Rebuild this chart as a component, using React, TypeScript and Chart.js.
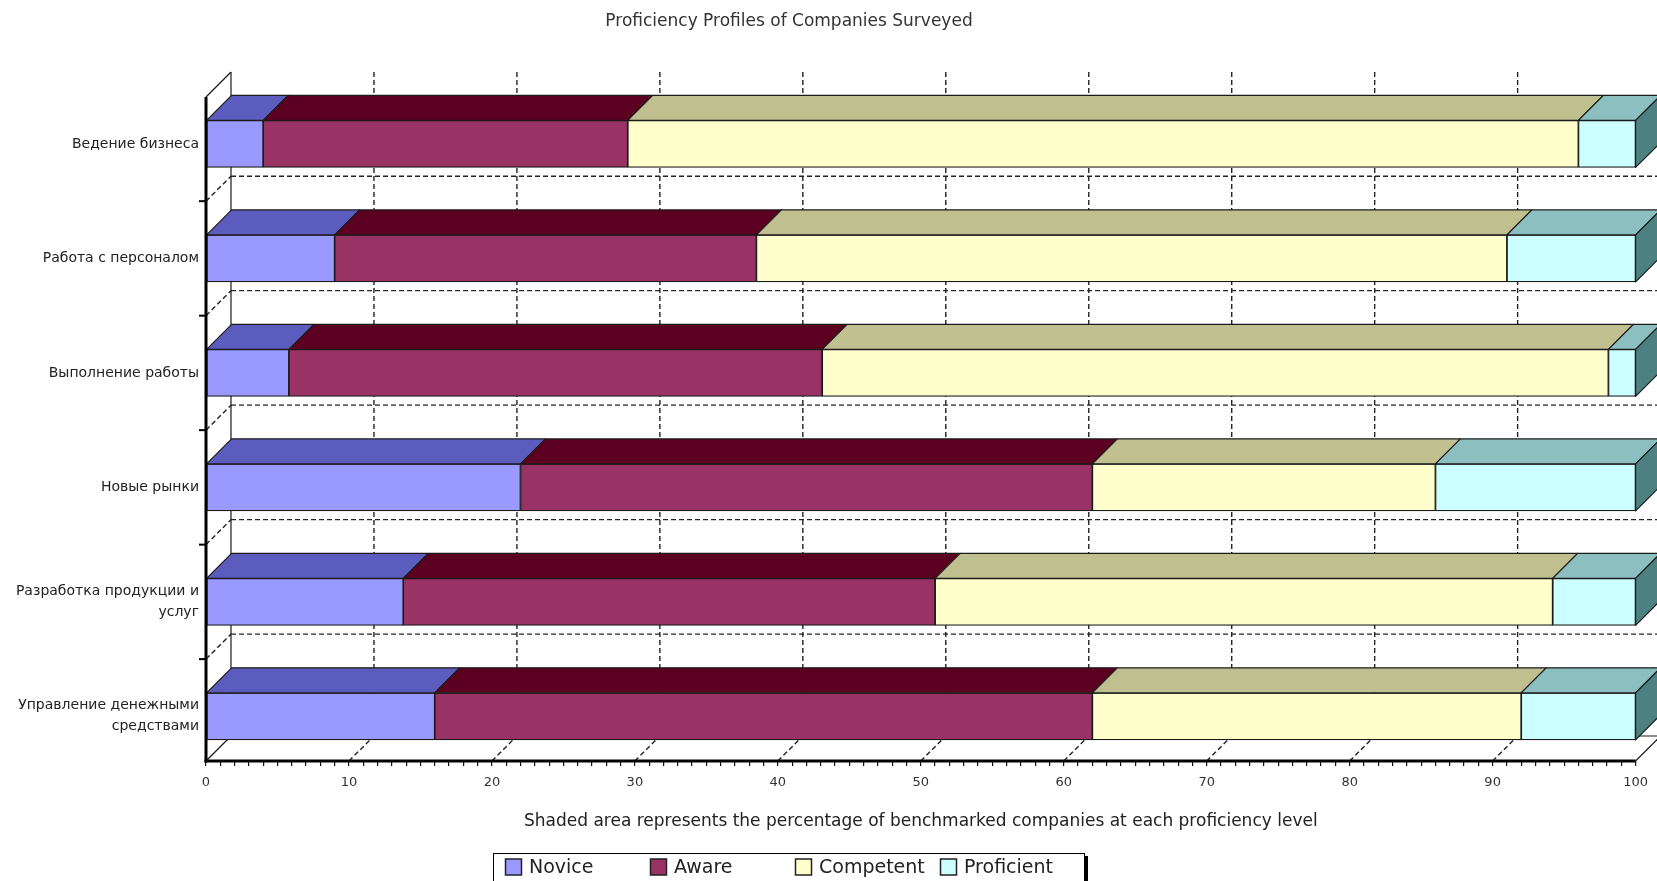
import { useEffect, useRef } from 'react';
import { Chart, registerables } from 'chart.js';

Chart.register(...registerables);

// Business areas (multi-line where the label wraps)
const CATEGORIES: string[][] = [
  ['Ведение бизнеса'],
  ['Работа с персоналом'],
  ['Выполнение работы'],
  ['Новые рынки'],
  ['Разработка продукции и', 'услуг'],
  ['Управление денежными', 'средствами'],
];

const SERIES = ['Novice', 'Aware', 'Competent', 'Proficient'];

// Share of companies (%) at each proficiency level, per business area
const NOVICE = [4, 9, 5.8, 22, 13.8, 16];
const AWARE = [25.5, 29.5, 37.3, 40, 37.2, 46];
const COMPETENT = [66.5, 52.5, 55, 24, 43.2, 30];
const PROFICIENT = [4, 9, 1.9, 14, 5.8, 8];

const X_GRID_VALUES = [10, 20, 30, 40, 50, 60, 70, 80, 90];

const FRONT_COLORS = ['#9999FF', '#993366', '#FFFFCC', '#CCFFFF'];
const TOP_COLORS = ['#5C5CBF', '#5C0021', '#C0BF8F', '#8CBFBF'];
const SIDE_COLOR = '#4D8080';
const EDGE = '#1a1a1a';

const TITLE = 'Proficiency Profiles of Companies Surveyed';
const X_TITLE =
  'Shaded area represents the percentage of benchmarked companies at each proficiency level';

const FONT = '"DejaVu Sans", "Noto Sans", sans-serif';
const DEPTH = 25;

const W = 1657;
const H = 881;

function line(ctx: CanvasRenderingContext2D, x1: number, y1: number, x2: number, y2: number) {
  ctx.beginPath();
  ctx.moveTo(x1, y1);
  ctx.lineTo(x2, y2);
  ctx.stroke();
}

function poly(ctx: CanvasRenderingContext2D, pts: number[][], fill: string) {
  ctx.beginPath();
  ctx.moveTo(pts[0][0], pts[0][1]);
  for (let i = 1; i < pts.length; i++) ctx.lineTo(pts[i][0], pts[i][1]);
  ctx.closePath();
  ctx.fillStyle = fill;
  ctx.fill();
  ctx.stroke();
}

// Back wall, left wall and floor of the 3D box, drawn behind the bars
const framePlugin = {
  id: 'frame3d',
  beforeDatasetsDraw(chart: any) {
    const { ctx, chartArea: a, scales } = chart;
    const xs = scales.x;
    const ys = scales.y;
    const d = DEPTH;
    const x0 = xs.getPixelForValue(0);
    const x100 = xs.getPixelForValue(100);
    ctx.save();
    ctx.strokeStyle = '#222';
    ctx.lineWidth = 1.4;
    ctx.setLineDash([5, 3]);
    X_GRID_VALUES.forEach((v) => {
      const px = xs.getPixelForValue(v);
      line(ctx, px + d, a.top - d, px + d, a.bottom - d);
      line(ctx, px, a.bottom, px + d, a.bottom - d);
    });
    for (let i = 0; i < CATEGORIES.length - 1; i++) {
      const py = ys.getPixelForValue(i + 0.5);
      line(ctx, x0 + d, py - d, x100 + d, py - d);
      line(ctx, a.left, py, a.left + d, py - d);
    }
    ctx.setLineDash([]);
    ctx.lineWidth = 1.2;
    ctx.strokeStyle = EDGE;
    line(ctx, a.left + d, a.top - d, a.left + d, a.bottom - d);
    line(ctx, a.left, a.top, a.left + d, a.top - d);
    line(ctx, a.left, a.bottom, a.left + d, a.bottom - d);
    line(ctx, x100, a.bottom, x100 + d, a.bottom - d);
    line(ctx, a.left + d, a.bottom - d, x100 + d, a.bottom - d);
    ctx.restore();
  },
  afterDatasetsDraw(chart: any) {
    const { ctx, chartArea: a, scales } = chart;
    const ys = scales.y;
    const d = DEPTH;
    const last = chart.data.datasets.length - 1;
    ctx.save();
    ctx.strokeStyle = EDGE;
    ctx.lineWidth = 1.2;
    ctx.lineJoin = 'round';
    chart.data.datasets.forEach((_: any, di: number) => {
      const meta = chart.getDatasetMeta(di);
      meta.data.forEach((bar: any) => {
        const p = bar.getProps(['x', 'y', 'base', 'height'], true);
        const left = Math.min(p.base, p.x);
        const right = Math.max(p.base, p.x);
        const top = p.y - p.height / 2;
        const bottom = p.y + p.height / 2;
        poly(
          ctx,
          [
            [left, top],
            [right, top],
            [right + d, top - d],
            [left + d, top - d],
          ],
          TOP_COLORS[di],
        );
        if (di === last) {
          poly(
            ctx,
            [
              [right, top],
              [right + d, top - d],
              [right + d, bottom - d],
              [right, bottom],
            ],
            SIDE_COLOR,
          );
        }
      });
    });
    // front axes
    ctx.strokeStyle = '#000';
    ctx.lineWidth = 3;
    line(ctx, a.left, a.top, a.left, a.bottom + 1.5);
    line(ctx, a.left - 1.5, a.bottom, a.right, a.bottom);
    ctx.lineWidth = 2;
    for (let i = 0; i < CATEGORIES.length - 1; i++) {
      const py = ys.getPixelForValue(i + 0.5);
      line(ctx, a.left - 7, py, a.left, py);
    }
    ctx.restore();
  },
};

// Chart title and boxed legend with fixed-width columns
const decorPlugin = {
  id: 'decor',
  afterDraw(chart: any) {
    const { ctx } = chart;
    const cx = 789;
    ctx.save();
    ctx.fillStyle = '#333';
    ctx.font = `17px ${FONT}`;
    ctx.textAlign = 'center';
    ctx.textBaseline = 'middle';
    ctx.fillText(TITLE, cx, 22);

    const boxW = 592;
    const boxL = cx - boxW / 2;
    const boxT = 853;
    const boxH = 34;
    ctx.fillStyle = '#000';
    ctx.fillRect(boxL + 3, boxT + 3, boxW, boxH);
    ctx.fillStyle = '#fff';
    ctx.fillRect(boxL, boxT, boxW, boxH);
    ctx.strokeStyle = '#000';
    ctx.lineWidth = 1;
    ctx.strokeRect(boxL + 0.5, boxT + 0.5, boxW - 1, boxH - 1);

    ctx.font = `19px ${FONT}`;
    ctx.textAlign = 'left';
    chart.data.datasets.forEach((ds: any, i: number) => {
      const sx = boxL + 12.5 + i * 145;
      ctx.fillStyle = ds.backgroundColor;
      ctx.fillRect(sx, 859, 16, 16);
      ctx.strokeStyle = '#222';
      ctx.lineWidth = 1.5;
      ctx.strokeRect(sx, 859, 16, 16);
      ctx.fillStyle = '#222';
      ctx.fillText(ds.label, sx + 23.5, 868);
    });
    ctx.restore();
  },
};

export default function App() {
  const ref = useRef<HTMLCanvasElement | null>(null);

  useEffect(() => {
    if (!ref.current) return;
    const values = [NOVICE, AWARE, COMPETENT, PROFICIENT];
    const chart = new Chart(ref.current, {
      type: 'bar',
      data: {
        datasets: SERIES.map((name, si) => ({
          label: name,
          data: values[si].map((v, i) => ({ x: v, y: i })),
          backgroundColor: FRONT_COLORS[si],
          borderColor: EDGE,
          borderWidth: 1.2,
          borderSkipped: false,
          barThickness: 47,
        })),
      },
      options: {
        indexAxis: 'y',
        responsive: false,
        animation: false,
        events: [],
        layout: { padding: { top: 97, right: 20, bottom: 45, left: 0 } },
        plugins: {
          legend: { display: false },
          title: { display: false },
          tooltip: { enabled: false },
        },
        scales: {
          x: {
            type: 'linear',
            stacked: true,
            min: 0,
            max: 100,
            border: { display: false },
            grid: {
              drawOnChartArea: false,
              drawTicks: true,
              tickLength: 5,
              color: '#111',
              lineWidth: 1.2,
            },
            ticks: {
              stepSize: 1,
              autoSkip: false,
              maxRotation: 0,
              padding: 9,
              color: '#333',
              font: { family: FONT, size: 13 },
              callback: (v: any) => (Number(v) % 10 === 0 ? String(v) : ''),
            },
            title: {
              display: true,
              text: X_TITLE,
              color: '#222',
              font: { family: FONT, size: 17 },
              padding: { top: 12, bottom: 4 },
            },
          },
          y: {
            type: 'linear',
            stacked: true,
            reverse: true,
            offset: false,
            min: -0.41,
            max: 5.39,
            border: { display: false },
            grid: { display: false, drawTicks: false, tickLength: 0, offset: false },
            afterBuildTicks: (scale: any) => {
              scale.ticks = CATEGORIES.map((_, i) => ({ value: i }));
            },
            afterFit: (scale: any) => {
              scale.width = 206;
            },
            ticks: {
              autoSkip: false,
              padding: 7,
              color: '#222',
              font: { family: FONT, size: 14, lineHeight: 1.5 },
              callback: (v: any) => CATEGORIES[Number(v)] ?? '',
            },
          },
        },
      } as any,
      plugins: [framePlugin, decorPlugin],
    });
    return () => chart.destroy();
  }, []);

  return (
    <div style={{ position: 'fixed', left: 0, top: 0, width: W, height: H, background: '#fff' }}>
      <canvas ref={ref} width={W} height={H} style={{ width: W, height: H, display: 'block' }} />
    </div>
  );
}
